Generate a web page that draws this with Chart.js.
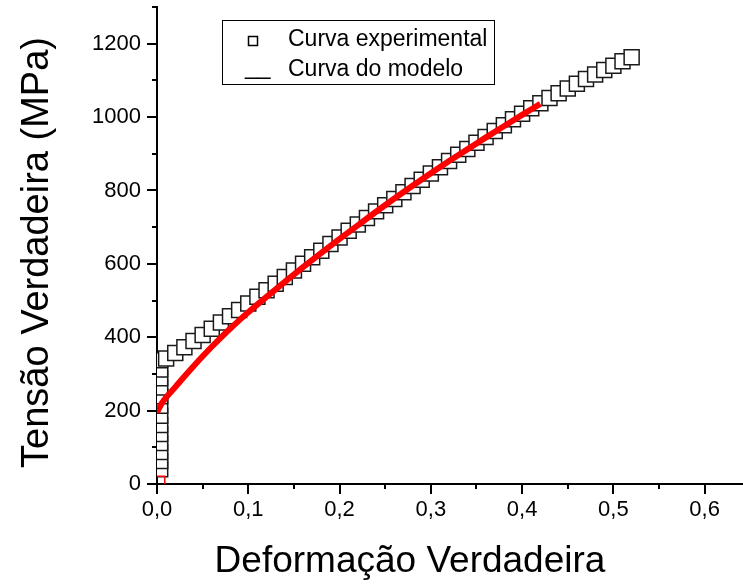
<!DOCTYPE html>
<html><head><meta charset="utf-8">
<script src="https://cdn.jsdelivr.net/npm/chart.js@4.4.1/dist/chart.umd.min.js"></script>
<style>html,body{margin:0;padding:0;background:#fff;overflow:hidden}canvas{display:block}</style>
</head><body>
<canvas id="c" width="743" height="585"></canvas>
<script>
// ---- data ----
const seriesLabels = ['Curva experimental', 'Curva do modelo'];
const axisTitles = { x: 'Deformação Verdadeira', y: 'Tensão Verdadeira (MPa)' };
const xTickLabels = ['0,0', '0,1', '0,2', '0,3', '0,4', '0,5', '0,6'];
const yTickLabels = ['0', '200', '400', '600', '800', '1000', '1200'];

const expStrain = [
  0.0035, 0.0035, 0.0035, 0.0035, 0.0035, 0.0035, 0.0035, 0.0035, 0.0035, 0.0035, 0.0035, 0.0035, 0.0035,
  0.01, 0.02, 0.03, 0.04, 0.05, 0.06, 0.07, 0.08, 0.09, 0.10,
  0.11, 0.12, 0.13, 0.14, 0.15, 0.16, 0.17, 0.18, 0.19, 0.20,
  0.21, 0.22, 0.23, 0.24, 0.25, 0.26, 0.27, 0.28, 0.29, 0.30,
  0.31, 0.32, 0.33, 0.34, 0.35, 0.36, 0.37, 0.38, 0.39, 0.40,
  0.41, 0.42, 0.43, 0.44, 0.45, 0.46, 0.47, 0.48, 0.49, 0.50,
  0.51, 0.52
];
const expStress = [
  40, 63, 87, 112, 136, 161, 186, 213, 239, 263, 288, 312, 337,
  342, 357, 373, 390, 406, 423, 440, 457, 474, 492,
  510, 528, 546, 564, 582, 600, 618, 636, 654, 672,
  690, 707, 725, 743, 760, 777, 795, 812, 829, 846,
  863, 880, 897, 913, 930, 946, 962, 978, 994, 1009,
  1024, 1038, 1052, 1065, 1078, 1091, 1104, 1116, 1128, 1140,
  1152, 1163
];

const modelStrain = [0, 0.005, 0.01, 0.02, 0.03, 0.04, 0.05, 0.06, 0.07, 0.08, 0.09, 0.10,
  0.12, 0.14, 0.16, 0.18, 0.20, 0.22, 0.24, 0.26,
  0.28, 0.30, 0.32, 0.34, 0.36, 0.38, 0.40, 0.42];
const modelStress = [195, 219, 236, 264, 293, 321, 348, 374, 399, 423, 446, 468,
  510, 551, 591, 630, 668, 705, 742, 778,
  813, 847, 880, 912, 944, 975, 1006, 1036];

const originStrain = [0];
const originStress = [0];

const toPoints = (xs, ys) => xs.map((x, i) => ({ x: x, y: ys[i] }));

const FONT = "'Liberation Sans', Arial, sans-serif";

const tickMarks = {
  id: 'tickMarks',
  afterDraw(chart) {
    const ctx = chart.ctx, a = chart.chartArea;
    ctx.save();
    ctx.strokeStyle = '#000';
    ctx.lineWidth = 2;
    const xs = chart.scales.x, ys = chart.scales.y;
    xs.ticks.forEach((t, i) => {
      const p = Math.round(xs.getPixelForTick(i));
      const len = i % 2 === 0 ? 10 : 5;
      ctx.beginPath(); ctx.moveTo(p, a.bottom); ctx.lineTo(p, a.bottom + len); ctx.stroke();
    });
    ys.ticks.forEach((t, i) => {
      const p = Math.round(ys.getPixelForTick(i));
      const len = i % 2 === 0 ? 10 : 5;
      ctx.beginPath(); ctx.moveTo(a.left - len, p); ctx.lineTo(a.left, p); ctx.stroke();
    });
    ctx.restore();
  }
};

const axisTitlePlugin = {
  id: 'axisTitlePlugin',
  afterDraw(chart) {
    const ctx = chart.ctx, a = chart.chartArea;
    ctx.save();
    ctx.fillStyle = '#000';
    ctx.textAlign = 'center';
    ctx.textBaseline = 'middle';
    ctx.font = '37px ' + FONT;
    ctx.fillText(axisTitles.x, a.left + 253, a.bottom + 78);
    ctx.font = '38px ' + FONT;
    ctx.translate(a.left - 119, (a.top + a.bottom) / 2 + 7);
    ctx.rotate(-Math.PI / 2);
    ctx.fillText(axisTitles.y, 0, 0);
    ctx.restore();
  }
};

const boxLegend = {
  id: 'boxLegend',
  afterDraw(chart) {
    const ctx = chart.ctx, a = chart.chartArea;
    const bx = a.left + 65, by = a.top + 13, bw = 272, bh = 64;
    ctx.save();
    ctx.fillStyle = '#fff';
    ctx.fillRect(bx, by, bw, bh);
    ctx.strokeStyle = '#000';
    ctx.lineWidth = 1;
    ctx.strokeRect(bx + 0.5, by + 0.5, bw, bh);
    ctx.font = '23px ' + FONT;
    ctx.fillStyle = '#000';
    ctx.textBaseline = 'alphabetic';
    ctx.textAlign = 'left';
    ctx.lineWidth = 1.5;
    ctx.strokeStyle = '#000';
    ctx.strokeRect(bx + 26.5, by + 16.5, 9, 9);
    ctx.fillText(chart.data.datasets[1].label, bx + 66, by + 26);
    ctx.fillText('__', bx + 23, by + 54);
    ctx.fillText(chart.data.datasets[0].label, bx + 66, by + 56);
    ctx.restore();
  }
};

const zeroPad = s => { s.paddingTop = 0; s.paddingBottom = 0; s.paddingLeft = 0; s.paddingRight = 0; };

new Chart(document.getElementById('c'), {
  type: 'scatter',
  data: {
    datasets: [
      {
        label: seriesLabels[1],
        data: toPoints(modelStrain, modelStress),
        showLine: true,
        borderColor: '#ff0000',
        borderWidth: 6,
        pointRadius: 0,
        cubicInterpolationMode: 'monotone',
        clip: 0,
        order: 0
      },
      {
        label: seriesLabels[0],
        data: toPoints(expStrain, expStress),
        showLine: false,
        pointStyle: 'rect',
        pointRadius: 10.6,
        pointBackgroundColor: '#ffffff',
        pointBorderColor: '#1a1a1a',
        pointBorderWidth: 1.5,
        clip: 0,
        order: 1
      },
      {
        label: 'origem',
        data: toPoints(originStrain, originStress),
        showLine: false,
        pointStyle: 'rect',
        pointRadius: 11,
        pointBackgroundColor: 'rgba(0,0,0,0)',
        pointBorderColor: '#ff0000',
        pointBorderWidth: 1.5,
        clip: 0,
        order: 0
      }
    ]
  },
  options: {
    responsive: false,
    animation: false,
    events: [],
    layout: { autoPadding: false, padding: { top: 7, right: 0, left: 0, bottom: 0 } },
    plugins: { legend: { display: false }, tooltip: { enabled: false } },
    scales: {
      x: {
        type: 'linear',
        min: 0, max: 0.642,
        grid: { display: false, drawTicks: false },
        border: { display: true, color: '#000', width: 2 },
        ticks: {
          stepSize: 0.05,
          includeBounds: false,
          autoSkip: false,
          maxRotation: 0,
          padding: 13,
          color: '#000',
          font: { family: FONT, size: 22 },
          callback: (v, i) => (i % 2 === 0 ? (xTickLabels[i / 2] || '') : '')
        },
        afterFit: s => { s.height = 101; zeroPad(s); }
      },
      y: {
        type: 'linear',
        min: 0, max: 1300,
        grid: { display: false, drawTicks: false },
        border: { display: true, color: '#000', width: 2 },
        ticks: {
          stepSize: 100,
          autoSkip: false,
          padding: 16,
          color: '#000',
          font: { family: FONT, size: 22 },
          callback: (v, i) => (i % 2 === 0 ? (yTickLabels[i / 2] || '') : '')
        },
        afterFit: s => { s.width = 157; zeroPad(s); }
      }
    }
  },
  plugins: [tickMarks, axisTitlePlugin, boxLegend]
});
</script>
</body></html>
